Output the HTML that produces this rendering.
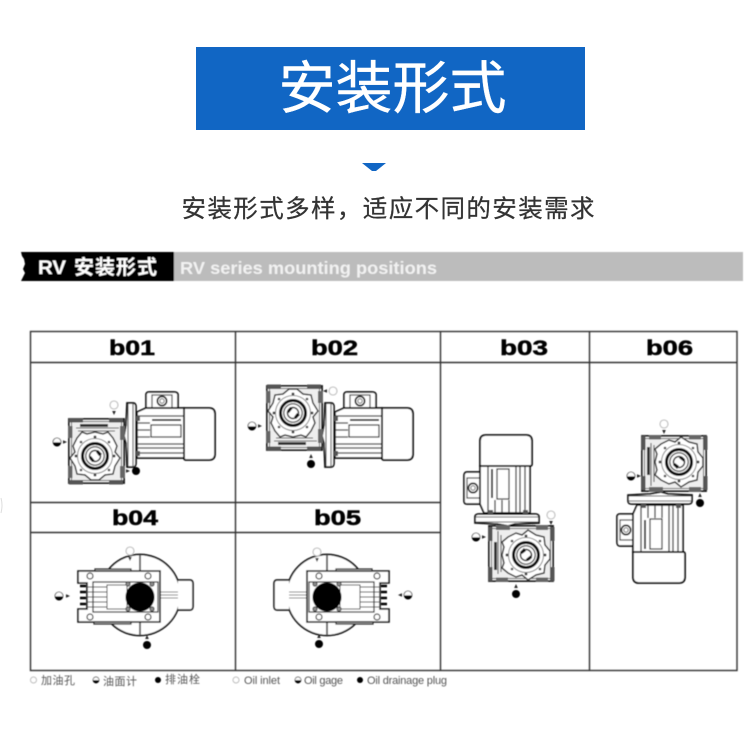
<!DOCTYPE html>
<html lang="zh">
<head>
<meta charset="utf-8">
<style>
html,body{margin:0;padding:0;background:#fff;width:750px;height:750px;overflow:hidden}
svg{display:block}
text{font-family:"Liberation Sans","Noto Sans CJK SC",sans-serif}
</style>
</head>
<body>
<svg width="750" height="750" viewBox="0 0 750 750" xmlns="http://www.w3.org/2000/svg">
<defs>
<filter id="b" x="-5%" y="-5%" width="110%" height="110%"><feGaussianBlur stdDeviation="0.45"/></filter>
<g id="gear">
  <rect x="-26" y="-37" width="55" height="64" fill="#fff" stroke="#111" stroke-width="1.8"/>
  <rect x="-23.500" y="-34.500" width="50" height="59" fill="#eee" stroke="#555" stroke-width="1"/>
  <rect x="-26" y="-38" width="14" height="4.500" fill="#555"/><rect x="14" y="-38" width="14" height="4.500" fill="#555"/>
  <rect x="-26" y="24" width="14" height="4.500" fill="#555"/><rect x="14" y="24" width="14" height="4.500" fill="#555"/>
  <rect x="-27" y="-30" width="4.500" height="12" fill="#666"/><rect x="25" y="-30" width="5" height="14" fill="#666"/>
  <rect x="-27" y="10" width="4.500" height="12" fill="#666"/><rect x="25" y="10" width="5" height="12" fill="#666"/>
  <rect x="-15" y="-32" width="28" height="3" fill="#333"/>
  <path d="M-19-28H24M-17-25H20" stroke="#555" stroke-width="1.100" fill="none"/>
  <path d="M0-24 8-22 13-24 18-18 22-10 20-4 25 2 20 10 18 18 10 19 4 24-4 24-10 19-18 18-20 10-25 2-20-4-22-10-18-18-13-24-8-22Z" fill="#fff" stroke="#333" stroke-width="1.500"/>
  <circle r="17.500" fill="none" stroke="#888" stroke-width="1"/>
  <circle r="12.500" fill="#fff" stroke="#111" stroke-width="3"/>
  <circle r="9.200" fill="none" stroke="#555" stroke-width="1.400"/>
  <circle r="5.500" fill="#fff" stroke="#333" stroke-width="1.500"/>
  <path d="M-6 1-3 6 0 5-4 0ZM3-6 7-2 4 0 1-4Z" fill="#111"/>
  <g fill="#444"><circle cy="-19" r="1.500"/><circle cy="19" r="1.500"/><circle cx="-19" r="1.500"/><circle cx="19" r="1.500"/><circle cx="-14" cy="-14" r="1.300"/><circle cx="14" cy="-14" r="1.300"/><circle cx="-14" cy="14" r="1.300"/><circle cx="14" cy="14" r="1.300"/></g>
</g>
<g id="motor">
  <path d="M22-25V-38Q22-41 25-41H50Q54-41 54-38V-25Z" fill="#fff" stroke="#111" stroke-width="1.700"/>
  <rect x="28" y="-38" width="20" height="13" fill="#fff" stroke="#444" stroke-width="1.200"/>
  <circle cx="38" cy="-32" r="4.600" fill="#fff" stroke="#222" stroke-width="1.700"/><circle cx="38" cy="-32" r="2.200" fill="none" stroke="#666"/>
  <path d="M60-25H85Q91-25 91-19V21Q91 27 85 27H62Q60 27 60 25Z" fill="#fff" stroke="#111" stroke-width="1.800"/>
  <path d="M13-21 22-25H60V25H13Z" fill="#fff" stroke="#111" stroke-width="1.700"/>
  <path d="M14-17H60M14-10H26M14-3H26M14 4H26M14 11H60M14 15H60M14 20H60" stroke="#333" stroke-width="1.300" fill="none"/>
  <path d="M28-13H57" stroke="#222" stroke-width="1.800"/>
  <rect x="27" y="-8" width="30" height="12" fill="#fff" stroke="#222" stroke-width="1.200"/>
  <path d="M3-30H9Q12-30 12-26V30Q12 34 9 34H3L2 10 0 3 2-8Z" fill="#fff" stroke="#111" stroke-width="1.700"/>
  <path d="M4-29V33M9-29V33" stroke="#444" stroke-width="1.100"/>
  <rect x="12" y="-17" width="4" height="5" fill="#555"/><rect x="12" y="18" width="4" height="5" fill="#555"/>
</g>
<g id="top">
  <circle cx="140" cy="595" r="40.500" fill="#fff" stroke="#111" stroke-width="1.700"/>
  <path d="M178 580H190Q193 580 193 584V606Q193 610 190 610H178" fill="#fff" stroke="#222" stroke-width="1.700"/>
  <path d="M140 555V635" stroke="#666" stroke-width="2"/>
  <path d="M160 595H178M160 592H178M160 598H178" stroke="#888" stroke-width="0.900"/>
  <path d="M78 571H160V622H78V609H87V583H78Z" fill="#fff" stroke="#111" stroke-width="1.600"/>
  <path d="M95 569H131V571H95ZM94 622H131V624H94Z" fill="#ccc" stroke="#222" stroke-width="1.200"/>
  <rect x="93" y="582" width="65" height="30" fill="#fff" stroke="#222" stroke-width="1.200"/>
  <path d="M88 587H107M88 592H107M88 597H107M88 602H107M88 607H107" stroke="#444" stroke-width="1.100"/>
  <rect x="107" y="585" width="20" height="24" fill="#fff" stroke="#444"/>
  <path d="M80 586H86M80 592H86M80 598H86M80 604H86" stroke="#000" stroke-width="2.400"/>
  <g fill="#fff" stroke="#444" stroke-width="1.200"><circle cx="90" cy="576" r="3"/><circle cx="148" cy="576" r="3"/><circle cx="90" cy="617" r="3"/><circle cx="148" cy="617" r="3"/></g>
  <g fill="#888" stroke="#333" stroke-width="0.800"><circle cx="128" cy="584" r="2.200"/><circle cx="152" cy="584" r="2.200"/><circle cx="128" cy="609" r="2.200"/><circle cx="152" cy="609" r="2.200"/></g>
  <circle cx="140" cy="597" r="14.500" fill="#000"/>
</g>
<g id="w"><circle r="4" fill="#fff" stroke="#bbb" stroke-width="1.100"/></g>
<g id="g"><circle r="4" fill="#fff" stroke="#444" stroke-width="0.800"/><path d="M-4 0.400A4 4 0 0 0 4 0.400Z" fill="#000"/></g>
<g id="k"><circle r="4" fill="#000"/></g>
<path id="ar" d="M-2-1.800 2 0-2 1.800Z" fill="#222"/>
</defs>

<rect width="750" height="750" fill="#fff"/>
<rect x="196" y="47" width="389" height="83" fill="#1166c4"/>
<text x="392.500" y="108" font-size="57" fill="#fff" stroke="#fff" stroke-width="0.400" text-anchor="middle" textLength="228" lengthAdjust="spacing">安装形式</text>
<path d="M362 163H386L376 171H372Z" fill="#1166c4"/>
<text x="388" y="217" font-size="24.500" fill="#333" stroke="#333" stroke-width="0.250" text-anchor="middle" textLength="413" lengthAdjust="spacing">安装形式多样，适应不同的安装需求</text>
<path d="M1 498Q3 505 1 513" stroke="#ddd" stroke-width="1" fill="none"/>

<g filter="url(#b)">
<rect x="174" y="252" width="569" height="29" fill="#bcbcbc"/>
<path d="M21 252H174V281H21L23 277 25 273 23 269 25 264 24 259 22 256Z" fill="#000"/>
<text x="38" y="274" font-size="19" font-weight="700" fill="#fff" textLength="28" lengthAdjust="spacingAndGlyphs">RV</text>
<text x="74" y="274" font-size="20" font-weight="700" fill="#fff" textLength="83" lengthAdjust="spacing">安装形式</text>
<text x="180" y="274" font-size="17.500" font-weight="700" fill="#f2f2f2" textLength="257" lengthAdjust="spacingAndGlyphs">RV series mounting positions</text>
</g>

<g filter="url(#b)">
<g fill="none" stroke="#333" stroke-width="1.400">
<rect x="30.500" y="331.500" width="706.500" height="339"/>
<path d="M30 362.500H737M30 502.500H440M30 532.500H440M235.500 331V670M440.500 331V670M589.500 331V670"/>
</g>
<g font-size="21" font-weight="700" fill="#000" stroke="#000" stroke-width="0.500">
<text x="109" y="355" textLength="46" lengthAdjust="spacingAndGlyphs">b01</text>
<text x="311" y="355" textLength="47" lengthAdjust="spacingAndGlyphs">b02</text>
<text x="500" y="355" textLength="48" lengthAdjust="spacingAndGlyphs">b03</text>
<text x="646" y="355" textLength="47" lengthAdjust="spacingAndGlyphs">b06</text>
<text x="112" y="525" textLength="46" lengthAdjust="spacingAndGlyphs">b04</text>
<text x="314" y="525" textLength="47" lengthAdjust="spacingAndGlyphs">b05</text>
</g>

<!-- b01 -->
<use href="#motor" transform="translate(124 433)"/>
<use href="#gear" transform="translate(95 456)"/>
<use href="#w" x="114" y="405"/><use href="#ar" transform="translate(114 413) rotate(90)"/>
<use href="#g" x="57" y="442"/><use href="#ar" x="65" y="442"/>
<use href="#k" x="136" y="471"/><use href="#ar" transform="translate(128 471)"/>

<!-- b02 -->
<use href="#motor" transform="translate(322 433)"/>
<use href="#gear" transform="matrix(1 0 0 -1 293 413)"/>
<use href="#w" x="333" y="391"/><use href="#ar" transform="translate(325 391) rotate(180)"/>
<use href="#g" x="252" y="426"/><use href="#ar" x="260" y="426"/>
<use href="#k" x="311" y="464"/><use href="#ar" transform="translate(311 456) rotate(-90)"/>

<!-- b03 -->
<use href="#motor" transform="matrix(0 -1 1 0 505 526)"/>
<use href="#gear" transform="matrix(0 -1 1 0 526 555)"/>
<use href="#w" x="551" y="515"/><use href="#ar" transform="translate(551 523) rotate(90)"/>
<use href="#g" x="476" y="537"/><use href="#ar" x="484" y="537"/>
<use href="#k" x="516" y="594"/><use href="#ar" transform="translate(516 586) rotate(-90)"/>

<!-- b06 -->
<use href="#motor" transform="matrix(0 1 1 0 658 492)"/>
<use href="#gear" transform="matrix(0 1 1 0 679 462)"/>
<use href="#w" x="664" y="424"/><use href="#ar" transform="translate(664 432) rotate(90)"/>
<use href="#g" x="631" y="476"/><use href="#ar" x="639" y="476"/>
<use href="#k" x="700" y="503"/><use href="#ar" transform="translate(700 495) rotate(-90)"/>

<!-- b04 -->
<use href="#top"/>
<use href="#w" x="130" y="551"/><use href="#ar" transform="translate(130 559) rotate(90)"/>
<use href="#g" x="59" y="596"/><use href="#ar" x="68" y="596"/>
<use href="#k" x="147" y="645"/><use href="#ar" transform="translate(147 637) rotate(-90)"/>

<!-- b05 -->
<use href="#top" transform="matrix(-1 0 0 1 467 0)"/>
<use href="#w" x="317" y="552"/><use href="#ar" transform="translate(317 560) rotate(90)"/>
<use href="#g" x="408" y="595"/><use href="#ar" transform="translate(400 595) rotate(180)"/>
<use href="#k" x="319" y="644"/><use href="#ar" transform="translate(319 636) rotate(-90)"/>

<!-- legend -->
<g font-size="11" fill="#555">
<circle cx="33.500" cy="680" r="3" fill="#fff" stroke="#bbb"/>
<text x="41" y="684" textLength="34" lengthAdjust="spacing">加油孔</text>
<circle cx="96" cy="680" r="3" fill="#fff" stroke="#333" stroke-width="0.700"/><path d="M93 680.300A3 3 0 0 0 99 680.300Z" fill="#000"/>
<text x="103" y="685" textLength="34" lengthAdjust="spacing">油面计</text>
<circle cx="158" cy="680" r="3" fill="#000"/>
<text x="165" y="683" textLength="35" lengthAdjust="spacing">排油栓</text>
<circle cx="236" cy="680" r="3" fill="#fff" stroke="#bbb"/>
<text x="244" y="684" textLength="36" lengthAdjust="spacing">Oil inlet</text>
<circle cx="298" cy="680" r="3" fill="#fff" stroke="#333" stroke-width="0.700"/><path d="M295 680.300A3 3 0 0 0 301 680.300Z" fill="#000"/>
<text x="304" y="684" textLength="39" lengthAdjust="spacing">Oil gage</text>
<circle cx="360" cy="680" r="3" fill="#000"/>
<text x="367" y="684" textLength="80" lengthAdjust="spacing">Oil drainage plug</text>
</g>
</g>
</svg>
</body>
</html>
